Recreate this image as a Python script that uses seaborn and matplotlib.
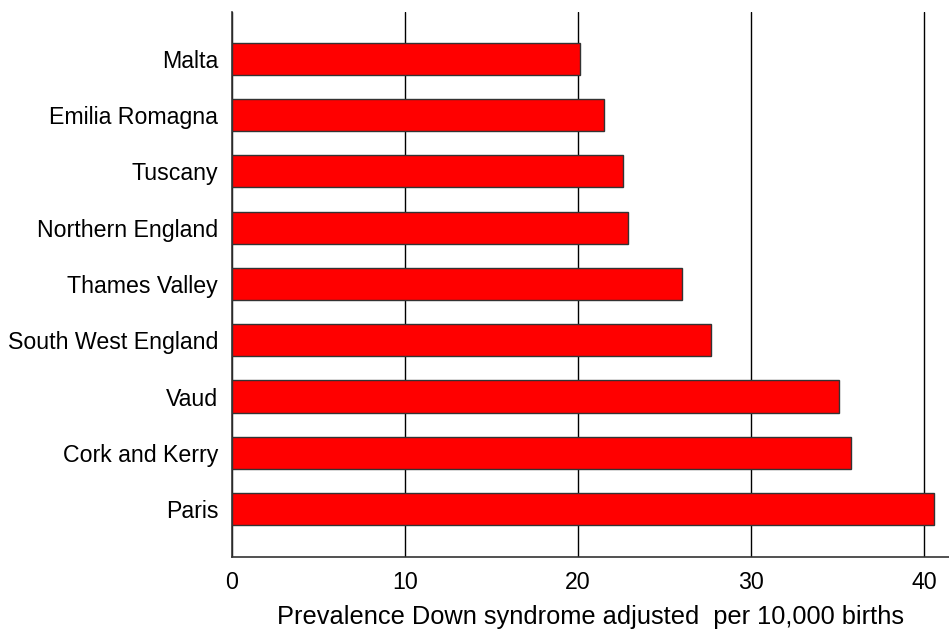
import numpy as np
import pandas as pd
import seaborn as sns
import matplotlib.pyplot as plt

regions = ["Malta", "Emilia Romagna", "Tuscany", "Northern England", "Thames Valley",
           "South West England", "Vaud", "Cork and Kerry", "Paris"]
prevalence = [20.1, 21.5, 22.6, 22.9, 26.0, 27.7, 35.1, 35.8, 40.6]
xticks = [0, 10, 20, 30, 40]

sns.set_style("white")
plt.rcParams['font.family'] = ['Liberation Sans', 'DejaVu Sans']
plt.rcParams['text.color'] = 'black'
plt.rcParams['xtick.color'] = 'black'
plt.rcParams['ytick.color'] = 'black'
plt.rcParams['axes.labelcolor'] = 'black'

df = pd.DataFrame({"region": regions, "prevalence": prevalence})

fig = plt.figure(figsize=(9.49, 6.32), dpi=100)
ax = fig.add_axes([0.2445, 0.1187, 0.7555, 0.8623])
ax.set_axisbelow(True)
ax.xaxis.grid(True, color="black", linewidth=1.0)
sns.barplot(data=df, x="prevalence", y="region", orient="h", color="#ff0000",
            saturation=1, width=0.57, edgecolor="#333333", linewidth=1.0, ax=ax)

ax.set_xlim(0, 41.45)
ax.set_ylim(8.85, -0.83)
ax.set_xticks(xticks)
ax.set_xlabel("Prevalence Down syndrome adjusted  per 10,000 births", fontsize=18.3, labelpad=8)
ax.set_ylabel("")
ax.tick_params(axis="x", direction="out", length=8, width=1, labelsize=16.7, pad=2)
ax.tick_params(axis="y", length=0, labelsize=16.7, pad=10)
for side in ["top", "right"]:
    ax.spines[side].set_visible(False)
for side in ["left", "bottom"]:
    ax.spines[side].set_color("#333333")
    ax.spines[side].set_linewidth(1.2)

fig.savefig("out.png", dpi=100)
